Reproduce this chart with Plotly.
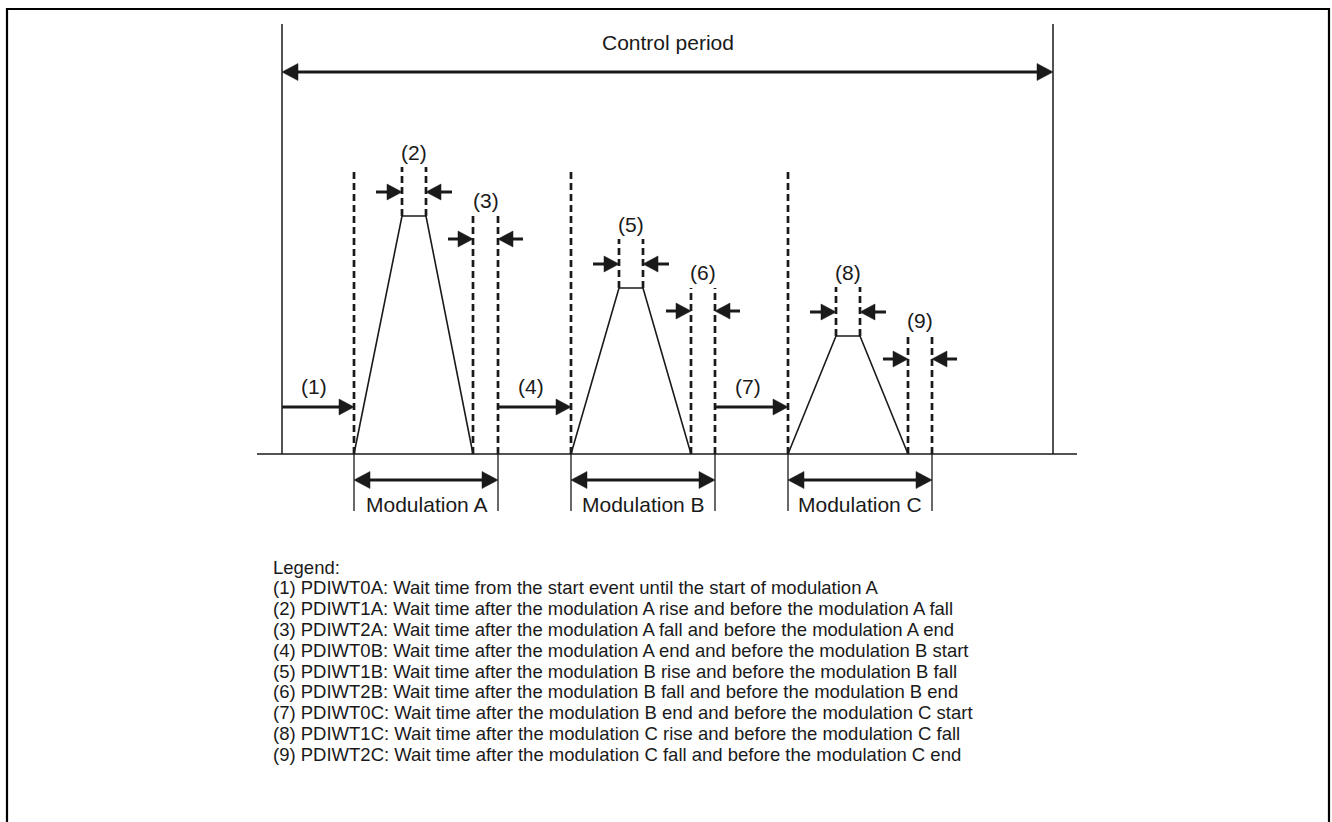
import plotly.graph_objects as go

# ---------------- data (time units / amplitude units) ----------------
control_period_end = 771
mod_labels = ["Modulation A", "Modulation B", "Modulation C"]
mod_start = [72, 289, 506]
rise_end = [120, 337, 554]
fall_start = [144, 361, 578]
fall_end = [191, 409, 626]
mod_end = [216, 433, 650]
amplitude = [238, 166, 118]
wait0_labels = ["(1)", "(4)", "(7)"]
wait1_labels = ["(2)", "(5)", "(8)"]
wait2_labels = ["(3)", "(6)", "(9)"]
legend_lines = [
    "Legend:",
    "(1) PDIWT0A: Wait time from the start event until the start of modulation A",
    "(2) PDIWT1A: Wait time after the modulation A rise and before the modulation A fall",
    "(3) PDIWT2A: Wait time after the modulation A fall and before the modulation A end",
    "(4) PDIWT0B: Wait time after the modulation A end and before the modulation B start",
    "(5) PDIWT1B: Wait time after the modulation B rise and before the modulation B fall",
    "(6) PDIWT2B: Wait time after the modulation B fall and before the modulation B end",
    "(7) PDIWT0C: Wait time after the modulation B end and before the modulation C start",
    "(8) PDIWT1C: Wait time after the modulation C rise and before the modulation C fall",
    "(9) PDIWT2C: Wait time after the modulation C fall and before the modulation C end",
]

# ---------------- layout constants ----------------
W, H = 1332, 822
X0, Y0 = 282, 454          # pixel position of t=0 / amplitude=0
INK = "#1a1a1a"
FONT = "Liberation Sans, Arial, sans-serif"
LABEL_SIZE = 21
LEGEND_SIZE = 18.5
DASH = "7px,4px"

fig = go.Figure()
shapes = []
annotations = []


def line(x0, y0, x1, y1, width=1.5, dash=None):
    d = dict(type="line", xref="x", yref="y", x0=x0, y0=y0, x1=x1, y1=y1,
             line=dict(color=INK, width=width))
    if dash:
        d["line"]["dash"] = dash
    shapes.append(d)


def head(xtip, y, direction, length=15, half=8):
    # direction +1: points right, -1: points left
    xb = xtip - direction * length
    shapes.append(dict(type="path", xref="x", yref="y",
                       path=f"M {xtip},{y} L {xb},{y + half} L {xb},{y - half} Z",
                       fillcolor=INK, line=dict(color=INK, width=0.5)))


def arrow(xfrom, xto, y, length=15, half=8, width=3):
    direction = 1 if xto > xfrom else -1
    line(xfrom, y, xto - direction * (length - 1), y, width=width)
    head(xto, y, direction, length, half)


def darrow(xa, xb, y, length=16, half=8.5, width=3.2):
    line(xa + length - 1, y, xb - length + 1, y, width=width)
    head(xa, y, -1, length, half)
    head(xb, y, 1, length, half)


def text(x, y, s, size=LABEL_SIZE):
    annotations.append(dict(x=x, y=y, xref="x", yref="y", text=s, showarrow=False,
                            font=dict(family=FONT, size=size, color=INK),
                            xanchor="center", yanchor="middle"))


# ground line
line(-25, 0, 795, 0, width=1.3)

# control period
line(0, 0, 0, 430, width=1.5)
line(control_period_end, 0, control_period_end, 430, width=1.5)
darrow(0, control_period_end, 382)
text(control_period_end / 2, 412, "Control period")

prev_end = [0] + mod_end[:-1]
for i in range(3):
    s, r, f, fe, e, a = mod_start[i], rise_end[i], fall_start[i], fall_end[i], mod_end[i], amplitude[i]
    # trapezoid waveform
    fig.add_trace(go.Scatter(x=[s, r, f, fe], y=[0, a, a, 0], mode="lines",
                             line=dict(color=INK, width=1.6), hoverinfo="skip",
                             showlegend=False))
    # start dashed line
    line(s, 0, s, 285, width=2.7, dash=DASH)
    # wait 0 arrow
    arrow(prev_end[i], s, 47)
    text((prev_end[i] + s) / 2 - 4, 68, wait0_labels[i])
    # wait 1 (flat top)
    line(r, a, r, a + 49, width=2.7, dash=DASH)
    line(f, a, f, a + 49, width=2.7, dash=DASH)
    arrow(r - 26, r, a + 24)
    arrow(f + 26, f, a + 24)
    text((r + f) / 2, a + 64, wait1_labels[i])
    # wait 2 (after fall)
    line(fe, 0, fe, a, width=2.7, dash=DASH)
    line(e, 0, e, a, width=2.7, dash=DASH)
    arrow(fe - 25, fe, a - 23)
    arrow(e + 25, e, a - 23)
    text((fe + e) / 2, a + 16, wait2_labels[i])
    # modulation bracket
    line(s, 0, s, -57, width=1.3)
    line(e, 0, e, -57, width=1.3)
    darrow(s, e, -26)
    text((s + e) / 2, -50, mod_labels[i])

# legend text block
for k, s in enumerate(legend_lines):
    py = 567 + k * 20.8
    annotations.append(dict(x=271 / W, y=1 - py / H, xref="paper", yref="paper", text=s,
                            showarrow=False, xanchor="left", yanchor="middle",
                            font=dict(family=FONT, size=LEGEND_SIZE, color=INK)))

# outer frame (open at the bottom)
shapes.append(dict(type="path", xref="paper", yref="paper",
                   path=f"M {7/W},-0.05 L {7/W},{1-9/H} L {1329/W},{1-9/H} L {1329/W},-0.05",
                   line=dict(color="black", width=2.2)))

fig.update_layout(
    width=W, height=H, margin=dict(l=0, r=0, t=0, b=0),
    paper_bgcolor="white", plot_bgcolor="white",
    xaxis=dict(range=[-X0, W - X0], visible=False, fixedrange=True),
    yaxis=dict(range=[Y0 - H, Y0], visible=False, fixedrange=True),
    shapes=shapes, annotations=annotations, showlegend=False,
)
fig.write_html("out.html", config={"displayModeBar": False},
               post_script="document.body.style.margin='0px';document.body.style.overflow='hidden';")
